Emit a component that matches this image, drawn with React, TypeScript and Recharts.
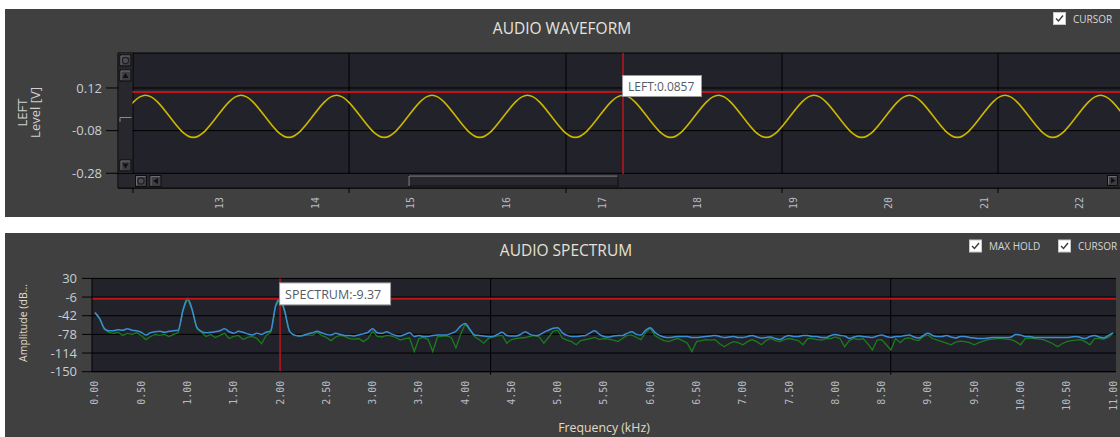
import React from "react";
import { LineChart, Line, XAxis, YAxis, CartesianGrid, ReferenceLine } from "recharts";

// ---- waveform (left channel) ----
const waveTime = [
  11.97, 12.22, 12.47, 12.72, 12.97, 13.22, 13.47, 13.72, 13.97, 14.22,
  14.47, 14.72, 14.97, 15.22, 15.47, 15.72, 15.97, 16.22, 16.47, 16.72,
  16.97, 17.22, 17.47, 17.72, 17.97, 18.22, 18.47, 18.72, 18.97, 19.22,
  19.47, 19.72, 19.97, 20.22, 20.47, 20.72, 20.97, 21.22, 21.47, 21.72,
  21.97, 22.22, 22.47,
];
const waveLeft = [
  -0.013, 0.0857, -0.013, -0.1117, -0.013, 0.0857, -0.013, -0.1117, -0.013, 0.0857,
  -0.013, -0.1117, -0.013, 0.0857, -0.013, -0.1117, -0.013, 0.0857, -0.013, -0.1117,
  -0.013, 0.0857, -0.013, -0.1117, -0.013, 0.0857, -0.013, -0.1117, -0.013, 0.0857,
  -0.013, -0.1117, -0.013, 0.0857, -0.013, -0.1117, -0.013, 0.0857, -0.013, -0.1117,
  -0.013, 0.0857, -0.013,
];
const waveTicks = [13, 14, 15, 16, 17, 18, 19, 20, 21, 22];
const waveGrid = [12.089, 14.351, 16.623, 18.885, 21.147];
const levelTicks = [0.12, -0.08, -0.28];
const waveCursorTime = 17.22;
const waveCursorLevel = 0.101;

// ---- spectrum ----
const freqKHz = [
  0, 0.05, 0.1, 0.15, 0.2, 0.25, 0.3, 0.35, 0.4, 0.45,
  0.5, 0.55, 0.6, 0.65, 0.7, 0.75, 0.8, 0.85, 0.9, 0.95,
  1, 1.05, 1.1, 1.15, 1.2, 1.25, 1.3, 1.35, 1.4, 1.45,
  1.5, 1.55, 1.6, 1.65, 1.7, 1.75, 1.8, 1.85, 1.9, 1.95,
  2, 2.05, 2.1, 2.15, 2.2, 2.25, 2.3, 2.35, 2.4, 2.45,
  2.5, 2.55, 2.6, 2.65, 2.7, 2.75, 2.8, 2.85, 2.9, 2.95,
  3, 3.05, 3.1, 3.15, 3.2, 3.25, 3.3, 3.35, 3.4, 3.45,
  3.5, 3.55, 3.6, 3.65, 3.7, 3.75, 3.8, 3.85, 3.9, 3.95,
  4, 4.05, 4.1, 4.15, 4.2, 4.25, 4.3, 4.35, 4.4, 4.45,
  4.5, 4.55, 4.6, 4.65, 4.7, 4.75, 4.8, 4.85, 4.9, 4.95,
  5, 5.05, 5.1, 5.15, 5.2, 5.25, 5.3, 5.35, 5.4, 5.45,
  5.5, 5.55, 5.6, 5.65, 5.7, 5.75, 5.8, 5.85, 5.9, 5.95,
  6, 6.05, 6.1, 6.15, 6.2, 6.25, 6.3, 6.35, 6.4, 6.45,
  6.5, 6.55, 6.6, 6.65, 6.7, 6.75, 6.8, 6.85, 6.9, 6.95,
  7, 7.05, 7.1, 7.15, 7.2, 7.25, 7.3, 7.35, 7.4, 7.45,
  7.5, 7.55, 7.6, 7.65, 7.7, 7.75, 7.8, 7.85, 7.9, 7.95,
  8, 8.05, 8.1, 8.15, 8.2, 8.25, 8.3, 8.35, 8.4, 8.45,
  8.5, 8.55, 8.6, 8.65, 8.7, 8.75, 8.8, 8.85, 8.9, 8.95,
  9, 9.05, 9.1, 9.15, 9.2, 9.25, 9.3, 9.35, 9.4, 9.45,
  9.5, 9.55, 9.6, 9.65, 9.7, 9.75, 9.8, 9.85, 9.9, 9.95,
  10, 10.05, 10.1, 10.15, 10.2, 10.25, 10.3, 10.35, 10.4, 10.45,
  10.5, 10.55, 10.6, 10.65, 10.7, 10.75, 10.8, 10.85, 10.9, 10.95,
  11,
];
// max hold trace (dB)
const maxHold = [
  -36, -47, -66, -71, -71, -69, -70, -67, -70, -71,
  -74, -79, -75, -73, -72, -74, -72, -71, -70, -32,
  -9, -30, -64, -72, -75, -74, -73, -71, -67, -73,
  -76, -72, -74, -77, -79, -76, -78, -74, -71, -24,
  -9.37, -33, -71, -79, -81, -80, -77, -75, -72, -75,
  -78, -79, -76, -78, -80, -80, -81, -79, -77, -74,
  -67, -75, -76, -73, -77, -80, -81, -78, -75, -82,
  -80, -82, -82, -80, -79, -79, -79, -76, -72, -62,
  -57, -68, -79, -80, -81, -82, -82, -78, -74, -80,
  -81, -81, -78, -73, -78, -80, -79, -74, -70, -66,
  -65, -75, -80, -82, -82, -81, -80, -75, -71, -78,
  -82, -83, -81, -80, -80, -76, -73, -78, -79, -70,
  -65, -74, -80, -83, -84, -83, -82, -82, -82, -84,
  -84, -83, -82, -81, -80, -82, -84, -83, -82, -84,
  -84, -82, -80, -83, -85, -84, -83, -86, -88, -83,
  -80, -82, -82, -80, -80, -82, -82, -84, -84, -80,
  -78, -80, -81, -86, -83, -81, -82, -83, -84, -81,
  -79, -82, -84, -82, -82, -80, -79, -83, -85, -80,
  -76, -80, -82, -82, -80, -83, -85, -82, -82, -84,
  -85, -86, -86, -85, -84, -84, -84, -84, -83, -78,
  -79, -82, -82, -84, -84, -84, -84, -84, -84, -84,
  -84, -83, -82, -84, -86, -82, -80, -83, -85, -80,
  -75,
];
// live spectrum trace (dB)
const spectrum = [
  -36, -48, -68, -74, -76, -74, -80, -76, -78, -75,
  -80, -88, -82, -78, -80, -78, -82, -78, -75, -33,
  -9.5, -31, -67, -74, -82, -78, -84, -80, -76, -86,
  -82, -80, -88, -84, -82, -86, -96, -80, -74, -25,
  -9.37, -34, -72, -80, -81, -80, -79, -80, -74, -80,
  -84, -90, -83, -80, -82, -86, -87, -86, -92, -86,
  -72, -82, -83, -80, -81, -84, -89, -86, -85, -111,
  -86, -84, -88, -111, -83, -82, -81, -84, -104, -78,
  -58, -70, -82, -88, -95, -86, -83, -81, -80, -95,
  -88, -86, -85, -84, -82, -80, -83, -95, -84, -72,
  -70, -85, -89, -92, -98, -90, -88, -86, -84, -88,
  -86, -87, -89, -92, -86, -80, -79, -84, -88, -74,
  -66, -80, -86, -90, -92, -88, -86, -90, -95, -111,
  -92, -90, -88, -89, -88, -96, -102, -96, -92, -94,
  -98, -92, -88, -92, -98, -90, -86, -90, -92, -88,
  -86, -88, -90, -98, -86, -86, -88, -89, -86, -86,
  -83, -86, -102, -90, -86, -88, -86, -96, -108, -89,
  -88, -98, -108, -86, -94, -86, -85, -88, -90, -82,
  -79, -86, -89, -92, -95, -98, -93, -91, -92, -94,
  -98, -94, -91, -88, -87, -86, -86, -87, -88, -92,
  -98, -86, -85, -86, -87, -88, -92, -96, -102, -96,
  -92, -90, -89, -88, -92, -98, -86, -86, -87, -84,
  -76,
];
const freqTicks = [0, 0.5, 1, 1.5, 2, 2.5, 3, 3.5, 4, 4.5, 5, 5.5, 6, 6.5, 7, 7.5, 8, 8.5, 9, 9.5, 10, 10.5, 11];
const freqGrid = [4.275, 8.598];
const ampTicks = [30, -6, -42, -78, -114, -150];
const specCursorFreq = 2;

const waveData = waveTime.map((t, i) => ({ t, left: waveLeft[i] }));
const specData = freqKHz.map((f, i) => ({ f, maxHold: maxHold[i], spectrum: spectrum[i] }));

const PANEL = "#404040";
const PLOT = "#22222a";
const CURSOR = "#c0141b";
const TICK_TEXT = "#b7bcc4";
const SANS = "'Open Sans', sans-serif";
const MONO = "'DejaVu Sans Mono', monospace";

// x ticks: grid positions get a short tick mark, the rest get a rotated label
function xTick(props: any, grid: number[], fmt: (v: number) => string, markLen: number) {
  const { x, y, payload } = props;
  if (grid.includes(payload.value)) {
    return <line x1={x} x2={x} y1={y} y2={y + markLen} stroke="#000" />;
  }
  const ty = y + 9;
  return (
    <text x={x} y={ty} transform={`rotate(-90 ${x} ${ty})`} textAnchor="end" dominantBaseline="central"
      fill={TICK_TEXT} fontSize={10} fontFamily={MONO}>
      {fmt(payload.value)}
    </text>
  );
}

function CursorTag({ viewBox, text, dy, w, h, size }: any) {
  const x = viewBox.x - 1;
  const y = viewBox.y + dy;
  return (
    <g>
      <rect x={x + 0.5} y={y + 0.5} width={w} height={h} fill="#fff" stroke="#9a9a9a" />
      <text x={x + 6} y={y + h / 2 + 1} dominantBaseline="central" fontSize={size} fontFamily={SANS} fill="#555b66">
        {text}
      </text>
    </g>
  );
}

function WaveformChart() {
  const cursorValue = waveLeft[waveTime.indexOf(waveCursorTime)];
  return (
    <LineChart width={1115} height={208} data={waveData} margin={{ top: 44, right: 0, bottom: 0, left: 0 }}>
      <CartesianGrid vertical={false} fill={PLOT} stroke="#000" />
      <XAxis dataKey="t" type="number" domain={[11.932, 22.424]} allowDataOverflow
        ticks={[...waveGrid, ...waveTicks]} interval={0} height={29}
        tickSize={0} tickMargin={0} tickLine={false} axisLine={{ stroke: "#000" }}
        tick={(p: any) => xTick(p, waveGrid, (v) => String(v), 5)} />
      <YAxis type="number" domain={[-0.349, 0.284]} allowDataOverflow ticks={levelTicks} interval={0}
        width={113} tickSize={12} tickMargin={4} tickLine={{ stroke: "#000" }} axisLine={{ stroke: "#000" }}
        tick={{ fill: "#c9cdd3", fontSize: 13, fontFamily: SANS }} />
      {waveGrid.map((g) => (
        <ReferenceLine key={g} x={g} stroke="#000" />
      ))}
      <Line dataKey="left" type="natural" stroke="#cbb700" strokeWidth={1.6} dot={false} isAnimationActive={false} />
      <ReferenceLine y={waveCursorLevel} stroke={CURSOR} strokeWidth={2} />
      <ReferenceLine x={waveCursorTime} stroke={CURSOR} strokeWidth={1.5}
        label={(p: any) => <CursorTag {...p} text={`LEFT:${cursorValue}`} dy={22} w={79} h={21} size={12} />} />
    </LineChart>
  );
}

function SpectrumChart() {
  const cursorValue = spectrum[freqKHz.indexOf(specCursorFreq)];
  return (
    <LineChart width={1115} height={204} data={specData} margin={{ top: 45.4, right: 4, bottom: 0, left: 0 }}>
      <CartesianGrid vertical={false} fill={PLOT} stroke="#000" />
      <XAxis dataKey="f" type="number" domain={[-0.032, 11.032]} allowDataOverflow
        ticks={[...freqGrid, ...freqTicks]} interval={0} height={65.3}
        tickSize={0} tickMargin={0} tickLine={false} axisLine={{ stroke: "#000" }}
        tick={(p: any) => xTick(p, freqGrid, (v) => v.toFixed(2), 3)} />
      <YAxis type="number" domain={[-150, 30]} ticks={ampTicks} interval={0}
        width={87} tickSize={10} tickMargin={5} tickLine={{ stroke: "#000" }} axisLine={{ stroke: "#000" }}
        tick={{ fill: "#c9cdd3", fontSize: 13, fontFamily: SANS }} />
      {freqGrid.map((g) => (
        <ReferenceLine key={g} x={g} stroke="#000" />
      ))}
      <Line dataKey="spectrum" type="linear" stroke="#1b7d1b" strokeWidth={1.3} dot={false} isAnimationActive={false} />
      <Line dataKey="maxHold" type="monotone" stroke="#3b8ed6" strokeWidth={1.5} dot={false} isAnimationActive={false} />
      <ReferenceLine y={cursorValue} stroke={CURSOR} strokeWidth={2} />
      <ReferenceLine x={specCursorFreq} stroke={CURSOR} strokeWidth={1.5}
        label={(p: any) => <CursorTag {...p} text={`SPECTRUM:${cursorValue}`} dy={4} w={111} h={22} size={12.5} />} />
    </LineChart>
  );
}

function Btn({ x, y, w = 12, h = 12, children }: any) {
  return (
    <g>
      <rect x={x + 0.5} y={y + 0.5} width={w - 1} height={h - 1} fill="#3d3d42" stroke="#0e0e10" />
      <path d={`M${x + 1.5} ${y + h - 1.5} V${y + 1.5} H${x + w - 1.5}`} stroke="#6c6c72" fill="none" />
      {children}
    </g>
  );
}

const Ring = ({ cx, cy }: any) => <circle cx={cx} cy={cy} r={3.2} fill="#4a4a50" stroke="#15151a" />;

function CheckBox({ x, y, label }: any) {
  return (
    <g>
      <rect x={x + 0.5} y={y + 0.5} width={12} height={12} fill="#fff" stroke="#c8c8c8" />
      <path d={`M${x + 3} ${y + 6.5} L${x + 5.5} ${y + 9} L${x + 10} ${y + 3.5}`} stroke="#3a3a3a" strokeWidth={1.4} fill="none" />
      <text x={x + 20} y={y + 6.5} dominantBaseline="central" fontSize={10} fontFamily={SANS} fill="#d6d6d6">
        {label}
      </text>
    </g>
  );
}

function Decorations() {
  return (
    <svg width={1120} height={437} style={{ position: "absolute", left: 0, top: 0, pointerEvents: "none" }}>
      {/* waveform panel */}
      <text x={562} y={28} textAnchor="middle" dominantBaseline="central" fontSize={15.5} fontFamily={SANS} fill="#e6e4de">
        AUDIO WAVEFORM
      </text>
      <CheckBox x={1053} y={12} label="CURSOR" />
      <text transform="translate(21.7 112.5) rotate(-90)" textAnchor="middle" dominantBaseline="central" fontSize={13} fontFamily={SANS} fill="#d0d0d0">
        LEFT
      </text>
      <text transform="translate(35 112.5) rotate(-90)" textAnchor="middle" dominantBaseline="central" fontSize={13} fontFamily={SANS} fill="#d0d0d0">
        Level [V]
      </text>

      {/* scroll bars */}
      <rect x={118.5} y={53} width={14} height={120} fill="#27272d" />
      <rect x={118.5} y={174} width={1001.5} height={13.5} fill="#27272d" />
      <Btn x={119.5} y={54.5}><Ring cx={125.5} cy={60.5} /></Btn>
      <Btn x={119.5} y={69.5}>
        <polygon points="122.5,78 128.5,78 125.5,73" fill="#111" />
      </Btn>
      <path d="M120 122 V117.5 H131.5" stroke="#8a8a8e" fill="none" />
      <Btn x={119.5} y={159.5}>
        <polygon points="122.5,163.5 128.5,163.5 125.5,168.5" fill="#111" />
      </Btn>
      <Btn x={135} y={175}><Ring cx={141} cy={181} /></Btn>
      <Btn x={149.5} y={175}>
        <polygon points="158,178 158,184 153,181" fill="#111" />
      </Btn>
      <rect x={408.5} y={175.5} width={209.5} height={10.5} fill="#26262c" stroke="#101012" />
      <path d="M409 186 V176 H617.5" stroke="#8c8c90" fill="none" />
      <Btn x={1107} y={175} w={11} h={11}>
        <polygon points="1111,177.5 1111,183.5 1115.5,180.5" fill="#111" />
      </Btn>

      {/* spectrum panel */}
      <text x={566} y={249.5} textAnchor="middle" dominantBaseline="central" fontSize={15.5} fontFamily={SANS} fill="#e6e1d4">
        AUDIO SPECTRUM
      </text>
      <CheckBox x={969} y={239.5} label="MAX HOLD" />
      <CheckBox x={1058} y={239.5} label="CURSOR" />
      <text transform="translate(22.5 323) rotate(-90)" textAnchor="middle" dominantBaseline="central" fontSize={10.5} fontFamily={SANS} fill="#e2dac6">
        Amplitude (dB...
      </text>
      <text x={604} y={427} textAnchor="middle" dominantBaseline="central" fontSize={12.3} fontFamily={SANS} fill="#e2dac6">
        Frequency (kHz)
      </text>
    </svg>
  );
}

export default function App() {
  return (
    <div style={{ position: "absolute", left: 0, top: 0, width: 1120, height: 437, background: "#fff", overflow: "hidden" }}>
      <div style={{ position: "absolute", left: 5, top: 9, width: 1115, height: 208, background: PANEL }}>
        <WaveformChart />
      </div>
      <div style={{ position: "absolute", left: 5, top: 233, width: 1115, height: 204, background: PANEL }}>
        <SpectrumChart />
      </div>
      <Decorations />
    </div>
  );
}
